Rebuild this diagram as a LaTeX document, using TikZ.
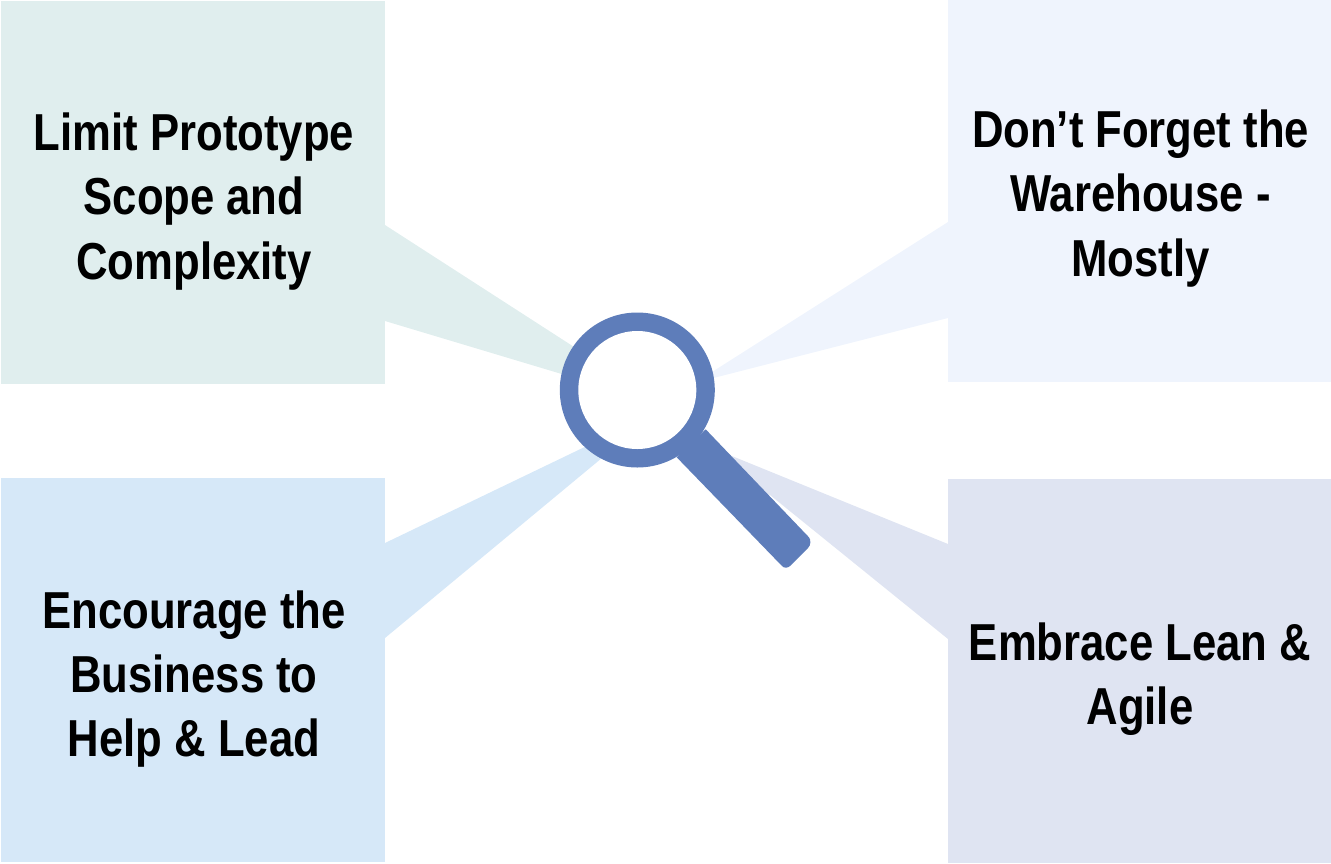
\documentclass[tikz,border=0pt]{standalone}
\usepackage{fontspec}
\setmainfont[FakeStretch=0.84]{Liberation Sans}
\definecolor{boxa}{HTML}{E0EEEE}
\definecolor{boxb}{HTML}{EFF4FD}
\definecolor{boxc}{HTML}{D6E8F8}
\definecolor{boxd}{HTML}{DFE4F2}
\definecolor{glass}{HTML}{5E7DBA}
\newcommand\tightwords{\spaceskip=12pt\relax}
\tikzset{
  panel/.style={inner sep=0pt,outer sep=0pt,text width=380pt,align=center,font=\fontsize{52pt}{64.3pt}\selectfont\bfseries,text=black}
}
\begin{document}
\begin{tikzpicture}[x=1pt,y=-1pt]
\useasboundingbox (0,0) rectangle (1331,863);
\fill[boxa] (1,1) rectangle (385,384);
\fill[boxb] (948,0) rectangle (1331,382);
\fill[boxc] (1,478) rectangle (385,862);
\fill[boxd] (948,479) rectangle (1331,863);
\coordinate (c) at (637.3,390);
\fill[boxa] (385,225) -- (585,354) -- (585,381) -- (385,321) -- cycle;
\fill[boxb] (948,222) -- (690,386) -- (690,384) -- (948,318) -- cycle;
\fill[boxc] (385,543) -- (620,430) -- (620,443) -- (385,638) -- cycle;
\fill[boxd] (948,544) -- (700,443) -- (720,470) -- (770,495) -- (948,639) -- cycle;
\fill[glass] (705.7,429.3) -- (808.9,537.2)
  .. controls (811,540) and (811,545) .. (808,548) -- (790,566)
  .. controls (788,568) and (784,568.5) .. (782,566) -- (676.7,457.3) -- cycle;
\fill[glass] (c) circle[radius=77.5];
\fill[white] (c) circle[radius=59];
\node[panel] (tl) at (194,201.5) {\tightwords Limit Prototype\\Scope and\\Complexity};
\node[panel] (tr) at (1140.5,198.5) {\tightwords Don’t Forget the\\Warehouse -\\Mostly};
\node[panel] (bl) at (194,679) {\tightwords Encourage the\\Business to\\Help \& Lead};
\node[panel] (br) at (1140,679.5) {\tightwords Embrace Lean \&\\Agile};
\end{tikzpicture}
\end{document}
